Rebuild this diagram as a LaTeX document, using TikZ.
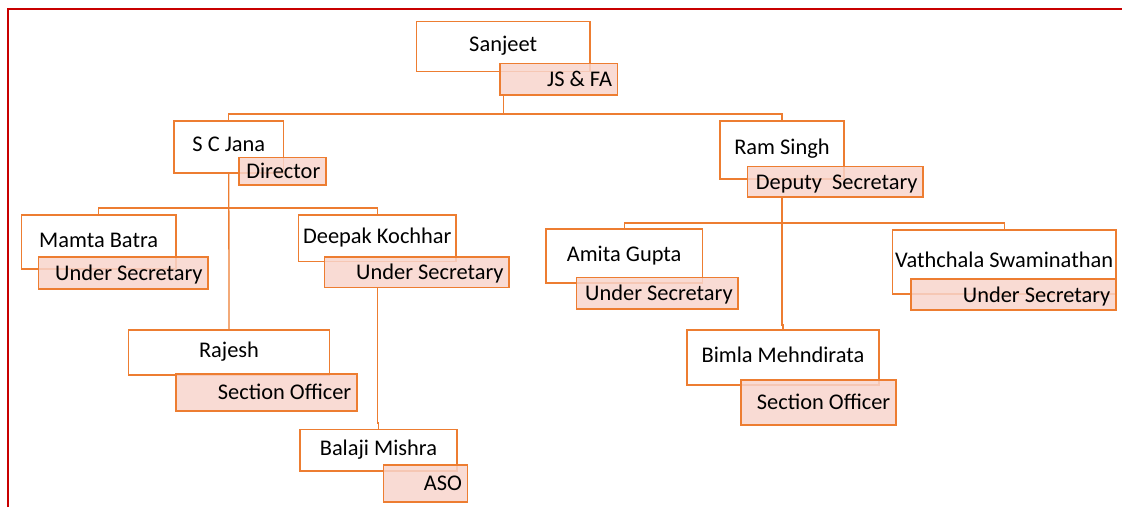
\documentclass[tikz,border=0pt]{standalone}
\usepackage{fontspec}
\setmainfont{Carlito}
\definecolor{orgC}{HTML}{ED7D31}
\definecolor{peachC}{HTML}{F8D5CC}
\definecolor{redC}{HTML}{C80000}
\newcommand{\rtext}[2]{\makebox[#1][r]{#2}}
\begin{document}
\begin{tikzpicture}[x=1pt,y=-1pt,
  basebox/.style={draw=orgC, line width=1.6pt, anchor=north west, inner ysep=0pt,
    font=\fontsize{22.4}{26}\selectfont, text height=15pt, text depth=0pt},
  namebox/.style={basebox, fill=white, inner xsep=0pt, text height=10pt},
  titlebox/.style={basebox, fill=peachC, fill opacity=0.85, text opacity=1, inner xsep=5.5pt},
  conn/.style={draw=orgC, line width=1.3pt},
  frame/.style={draw=redC, line width=2pt}]
\useasboundingbox (0,0) rectangle (1122,507);
\draw[frame] (8,507) -- (8,9.3) -- (1122,9.3);
% junction levels
\coordinate (busA) at (0,114);
\coordinate (busB) at (0,208);
\coordinate (busC) at (0,223);
\coordinate (jogA) at (0,423);
\coordinate (jogB) at (0,325);
% name boxes
\node[namebox, minimum width=173.3pt, minimum height=50pt] (sanjeet) at (415.7,20.7) {Sanjeet};
\node[namebox, minimum width=109.4pt, minimum height=52.3pt] (scjana) at (173.3,120) {S C Jana};
\node[namebox, minimum width=124.3pt, minimum height=58.3pt] (ramsingh) at (719,120) {Ram Singh};
\node[namebox, minimum width=154.3pt, minimum height=54pt] (mamta) at (20.7,214.3) {Mamta Batra};
\node[namebox, minimum width=157.6pt, minimum height=46.4pt] (deepak) at (297.7,214.3) {Deepak Kochhar};
\node[namebox, minimum width=156.7pt, minimum height=54pt] (amita) at (545,228.3) {Amita Gupta};
\node[namebox, minimum width=223.3pt, minimum height=64pt] (vath) at (891.7,229.3) {Vathchala Swaminathan};
\node[namebox, minimum width=201pt, minimum height=45pt] (rajesh) at (127.7,329) {Rajesh};
\node[namebox, minimum width=192.3pt, minimum height=55pt] (bimla) at (686,329.3) {Bimla Mehndirata};
\node[namebox, minimum width=156.7pt, minimum height=41.3pt] (balaji) at (299.3,428.7) {Balaji Mishra};
% connectors
\draw[conn] (sanjeet.south) ++(0,23.3) -- (sanjeet.south |- busA);
\draw[conn] (scjana.north) -- (scjana.north |- busA) -- (ramsingh.north |- busA) -- (ramsingh.north);
\draw[conn] (scjana.south) -- (rajesh.north);
\draw[conn] (mamta.north) -- (mamta.north |- busB) -- (deepak.north |- busB) -- (deepak.north);
\draw[conn] (deepak.south) ++(0,26) -- (deepak.south |- jogA) -| (balaji.north);
\draw[conn] (ramsingh.south) ++(0,17.7) -- (ramsingh.south |- jogB) -| (bimla.north);
\draw[conn] (amita.north) -- (amita.north |- busC) -- (vath.north |- busC) -- (vath.north);
% title boxes
\node[titlebox, minimum height=31.3pt] (jsfa) at (499,62.7) {\rtext{106.7pt}{JS \& FA}};
\node[titlebox, minimum height=27.3pt] (director) at (238,156.7) {\rtext{76pt}{Director}};
\node[titlebox, minimum height=30.3pt] (deputy) at (746.7,165.7) {\rtext{164.6pt}{Deputy\hspace{0.45em}Secretary}};
\node[titlebox, minimum height=32.3pt] (mamtaT) at (37.7,256) {\rtext{158.6pt}{Under Secretary}};
\node[titlebox, minimum height=30.7pt] (deepakT) at (323.7,256) {\rtext{173.6pt}{Under Secretary}};
\node[titlebox, minimum height=31.6pt] (amitaT) at (575.7,276.7) {\rtext{150.6pt}{Under Secretary}};
\node[titlebox, minimum height=31pt] (vathT) at (910,278.3) {\rtext{194pt}{Under Secretary}};
\node[titlebox, minimum height=36.7pt] (rajeshT) at (175,373.3) {\rtext{170pt}{Section Officer}};
\node[titlebox, minimum height=44.7pt] (bimlaT) at (740,379.3) {\rtext{144pt}{Section Officer}};
\node[titlebox, minimum height=36.7pt] (balajiT) at (382.7,464.3) {\rtext{73pt}{ASO}};
\end{tikzpicture}
\end{document}
